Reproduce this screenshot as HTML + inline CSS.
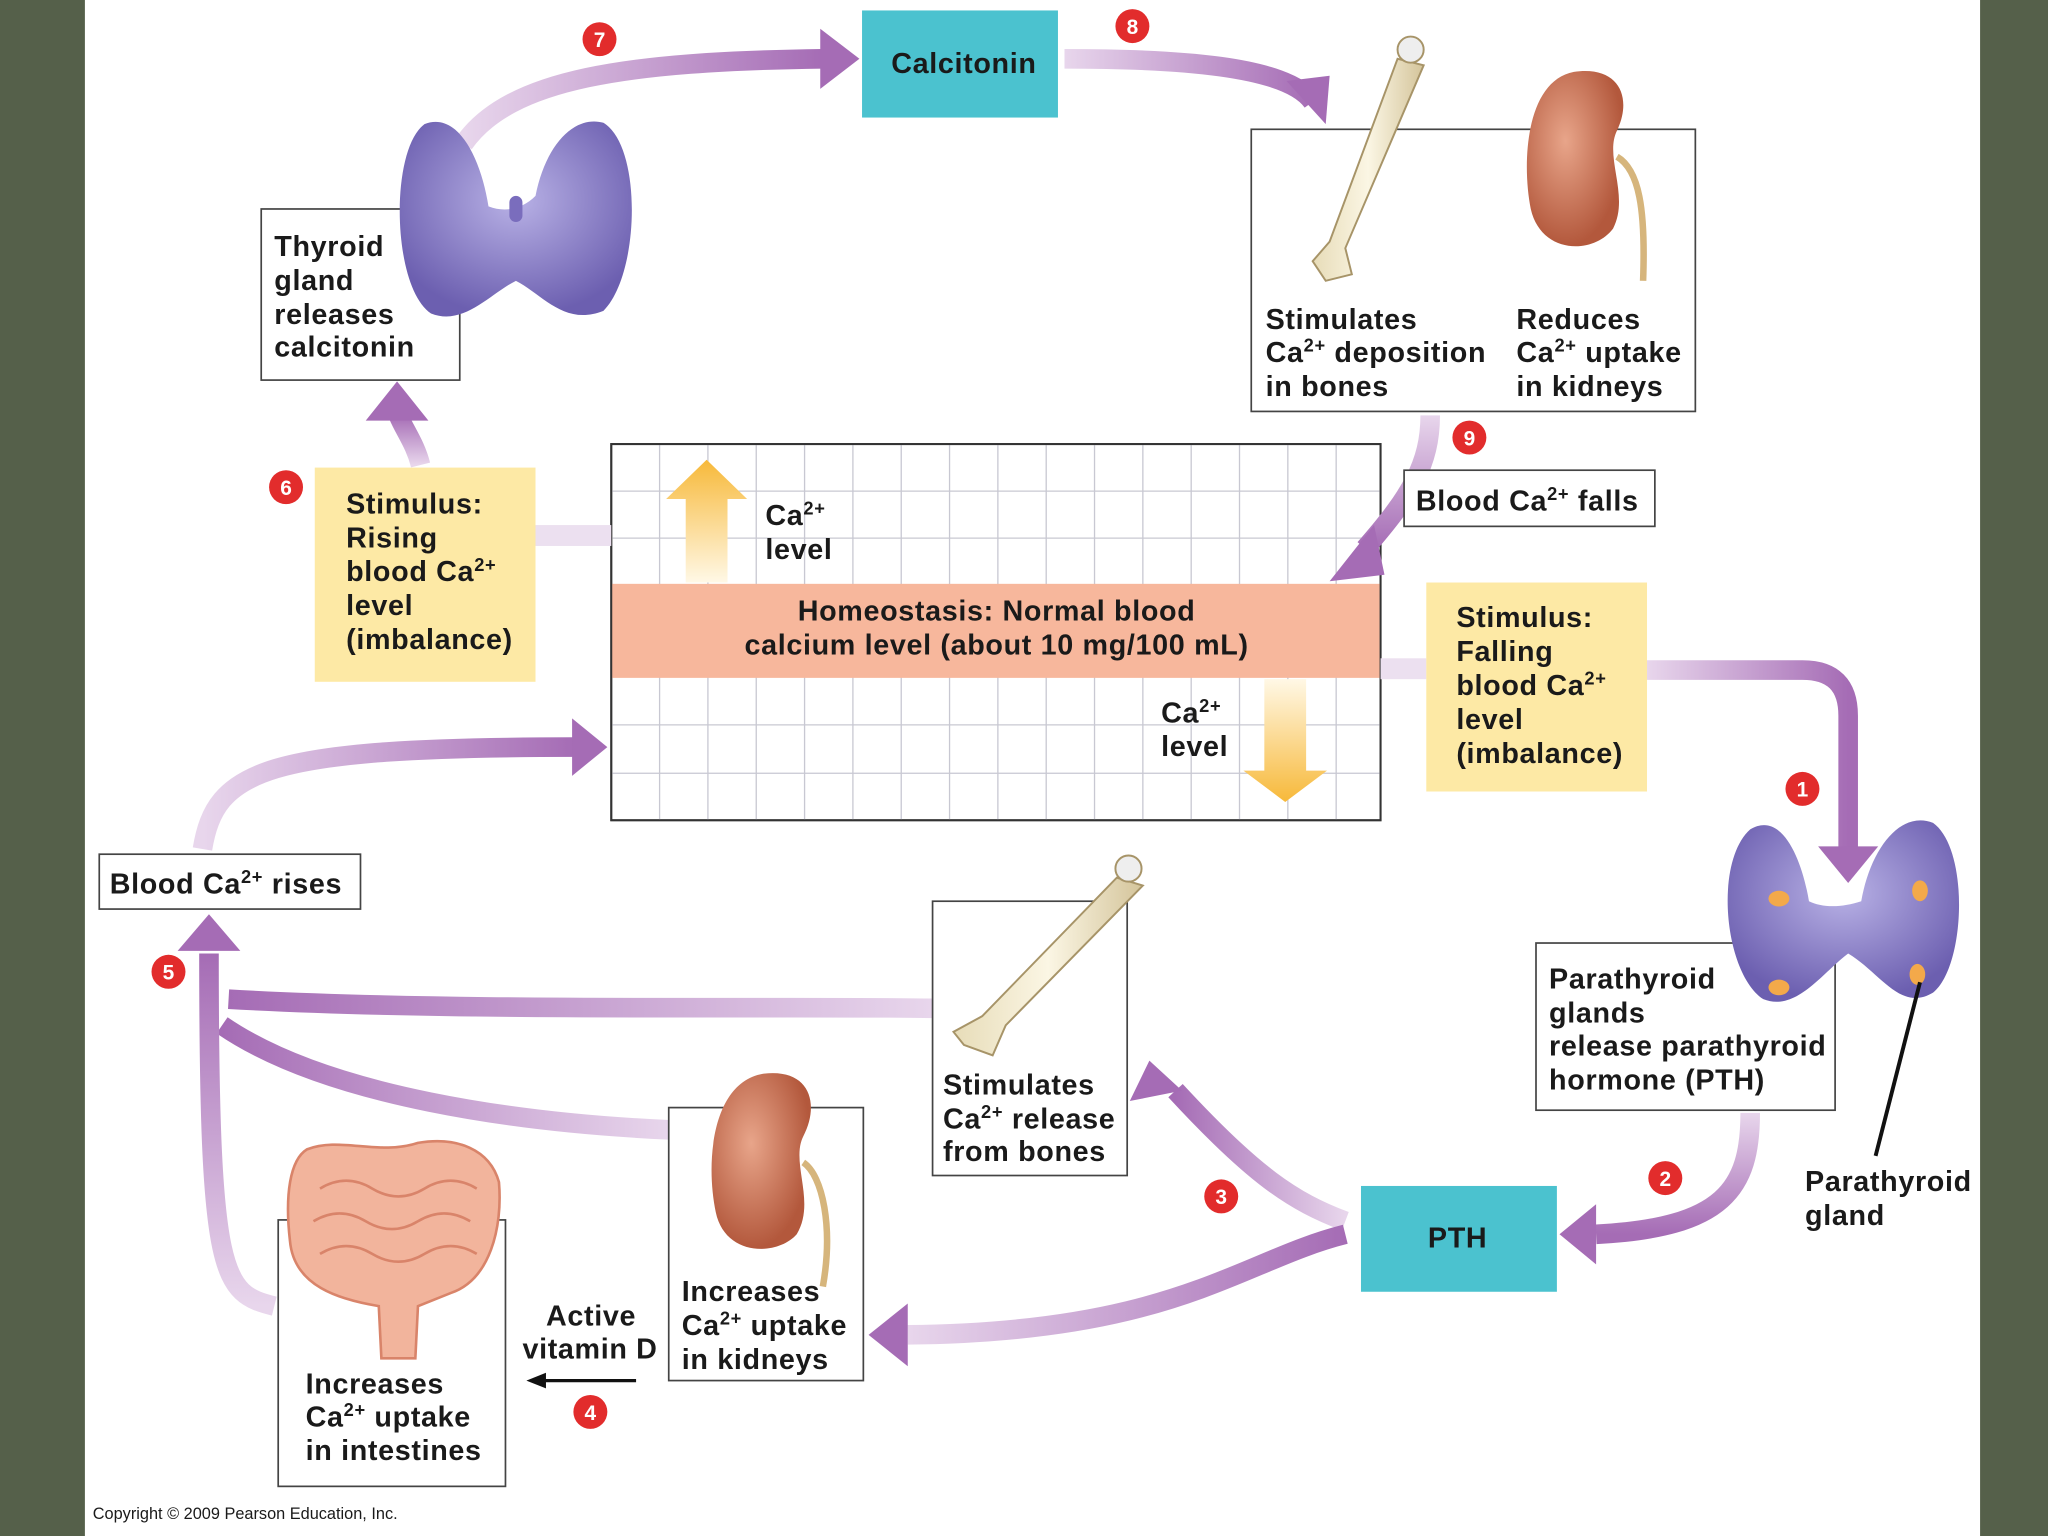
<!DOCTYPE html>
<html><head><meta charset="utf-8"><style>
html,body{margin:0;padding:0;background:#fff}
svg{display:block}
text{font-family:"Liberation Sans",Arial,sans-serif;font-weight:bold;fill:#1a1a1a}
.t{letter-spacing:0.5px}
</style></head><body>
<svg width="2048" height="1536" viewBox="0 0 1568 1176" xmlns="http://www.w3.org/2000/svg">
<defs>
<linearGradient id="gR" x1="0" x2="1" y1="0" y2="0"><stop offset="0" stop-color="#e8d6ec"/><stop offset="1" stop-color="#a56cb5"/></linearGradient>
<linearGradient id="gL" x1="1" x2="0" y1="0" y2="0"><stop offset="0" stop-color="#e8d6ec"/><stop offset="1" stop-color="#a56cb5"/></linearGradient>
<linearGradient id="gU" x1="0" x2="0" y1="1" y2="0"><stop offset="0" stop-color="#e8d6ec"/><stop offset="1" stop-color="#a56cb5"/></linearGradient>
<linearGradient id="gD" x1="0" x2="0" y1="0" y2="1"><stop offset="0" stop-color="#e8d6ec"/><stop offset="1" stop-color="#a56cb5"/></linearGradient>
<linearGradient id="yU" x1="0" x2="0" y1="1" y2="0"><stop offset="0" stop-color="#fff8e6"/><stop offset="1" stop-color="#f7b93a"/></linearGradient>
<linearGradient id="yD" x1="0" x2="0" y1="0" y2="1"><stop offset="0" stop-color="#fff8e6"/><stop offset="1" stop-color="#f7b93a"/></linearGradient>
<radialGradient id="thy" cx="0.5" cy="0.4" r="0.6"><stop offset="0" stop-color="#b9b2e6"/><stop offset="1" stop-color="#6c5fb0"/></radialGradient>
<radialGradient id="kid" cx="0.4" cy="0.4" r="0.6"><stop offset="0" stop-color="#e8a58a"/><stop offset="1" stop-color="#b3583c"/></radialGradient>
<linearGradient id="bone" x1="0" x2="1"><stop offset="0" stop-color="#e7dcb8"/><stop offset="0.5" stop-color="#fbf6e4"/><stop offset="1" stop-color="#d4c49a"/></linearGradient>
</defs>
<rect width="1568" height="1176" fill="#fff"/>
<rect x="0" y="0" width="65" height="1176" fill="#55604a"/>
<rect x="1516" y="0" width="52" height="1176" fill="#55604a"/>

<!-- graph -->
<rect x="468" y="340" width="589" height="288" fill="#fff" stroke="#333" stroke-width="1.5"/>
<g stroke="#c8c8d2" stroke-width="1">
<path d="M505 340V628M542 340V628M579 340V628M616 340V628M653 340V628M690 340V628M727 340V628M764 340V628M801 340V628M838 340V628M875 340V628M912 340V628M949 340V628M986 340V628M1023 340V628"/>
<path d="M468 376H1057M468 412H1057M468 555H1057M468 592H1057"/>
</g>
<rect x="468" y="447" width="589" height="72" fill="#f7b79c"/>
<rect x="468" y="340" width="589" height="288" fill="none" stroke="#333" stroke-width="1.5"/>
<g class="t" font-size="22">
<text x="763" y="475" text-anchor="middle">Homeostasis: Normal blood</text>
<text x="763" y="501" text-anchor="middle">calcium level (about 10 mg/100 mL)</text>
</g>
<polygon points="525,446 525,382 510,382 541,352 572,382 557,382 557,446" fill="url(#yU)"/>
<polygon points="968,520 968,590 952,590 984,614 1016,590 1000,590 1000,520" fill="url(#yD)"/>
<g class="t" font-size="22">
<text x="586" y="402">Ca<tspan font-size="14" dy="-8">2+</tspan></text>
<text x="586" y="428">level</text>
<text x="889" y="553">Ca<tspan font-size="14" dy="-8">2+</tspan></text>
<text x="889" y="579">level</text>
</g>

<!-- connectors -->
<rect x="410" y="402" width="58" height="16" fill="#ece0f0"/>
<rect x="1057" y="504" width="35" height="16" fill="#ece0f0"/>
<g fill="none" stroke-width="15">
<path d="M355 110 C390 60 480 47 630 45" stroke="url(#gR)"/>
<path d="M815 45 C900 45 985 50 1005 78" stroke="url(#gR)"/>
<path d="M1095 318 C1095 355 1080 380 1045 420" stroke="url(#gD)"/>
<path d="M322 356 C318 340 310 330 305 318" stroke="url(#gU)"/>
<path d="M1261 513 H1380 Q1415 513 1415 548 V650" stroke="url(#gR)"/>
<path d="M1340 852 C1340 910 1320 940 1222 945" stroke="url(#gD)"/>
<path d="M1030 935 C990 920 960 900 900 835" stroke="url(#gL)"/>
<path d="M1030 945 C950 965 900 1020 695 1022" stroke="url(#gR)"/>
<path d="M714 772 C600 770 350 775 175 765" stroke="url(#gL)"/>
<path d="M512 865 C400 860 250 840 170 785" stroke="url(#gL)"/>
<path d="M210 1000 C170 990 160 980 160 730" stroke="url(#gU)"/>
<path d="M155 650 C165 590 200 572 440 572" stroke="url(#gR)"/>
</g>
<g fill="#a56cb5">
<polygon points="628,22 658,45 628,68"/>
<polygon points="985,62 1018,58 1015,95"/>
<polygon points="1052,402 1018,445 1060,440"/>
<polygon points="280,322 304,292 328,322"/>
<polygon points="1392,648 1415,676 1438,648"/>
<polygon points="1222,922 1194,945 1222,968"/>
<polygon points="880,812 865,843 905,835"/>
<polygon points="695,998 665,1022 695,1046"/>
<polygon points="136,728 160,700 184,728"/>
<polygon points="438,550 465,572 438,594"/>
</g>
<path d="M487 1057 H415" stroke="#111" stroke-width="2.5"/>
<polygon points="403,1057 418,1051 418,1063" fill="#111"/>

<!-- boxes -->
<rect x="660" y="8" width="150" height="82" fill="#4bc2cf"/>
<text class="t" x="738" y="56" font-size="22" text-anchor="middle">Calcitonin</text>
<rect x="1042" y="908" width="150" height="81" fill="#4bc2cf"/>
<text class="t" x="1116" y="955" font-size="22" text-anchor="middle">PTH</text>
<rect x="241" y="358" width="169" height="164" fill="#fde9a5"/>
<g class="t" font-size="22"><text x="265" y="393">Stimulus:</text><text x="265" y="419">Rising</text><text x="265" y="445">blood Ca<tspan font-size="14" dy="-8">2+</tspan></text><text x="265" y="471">level</text><text x="265" y="497">(imbalance)</text></g>
<rect x="1092" y="446" width="169" height="160" fill="#fde9a5"/>
<g class="t" font-size="22"><text x="1115" y="480">Stimulus:</text><text x="1115" y="506">Falling</text><text x="1115" y="532">blood Ca<tspan font-size="14" dy="-8">2+</tspan></text><text x="1115" y="558">level</text><text x="1115" y="584">(imbalance)</text></g>

<g fill="#fff" stroke="#444" stroke-width="1.3">
<rect x="200" y="160" width="152" height="131"/>
<rect x="958" y="99" width="340" height="216"/>
<rect x="1075" y="360" width="192" height="43"/>
<rect x="76" y="654" width="200" height="42"/>
<rect x="1176" y="722" width="229" height="128"/>
<rect x="714" y="690" width="149" height="210"/>
<rect x="512" y="848" width="149" height="209"/>
<rect x="213" y="934" width="174" height="204"/>
</g>
<g class="t" font-size="22">
<text x="210" y="196">Thyroid</text><text x="210" y="222">gland</text><text x="210" y="248">releases</text><text x="210" y="273">calcitonin</text>
<text x="969" y="252">Stimulates</text><text x="969" y="277">Ca<tspan font-size="14" dy="-8">2+</tspan><tspan dy="8"> deposition</tspan></text><text x="969" y="303">in bones</text>
<text x="1161" y="252">Reduces</text><text x="1161" y="277">Ca<tspan font-size="14" dy="-8">2+</tspan><tspan dy="8"> uptake</tspan></text><text x="1161" y="303">in kidneys</text>
<text x="1084" y="391">Blood Ca<tspan font-size="14" dy="-8">2+</tspan><tspan dy="8"> falls</tspan></text>
<text x="84" y="684">Blood Ca<tspan font-size="14" dy="-8">2+</tspan><tspan dy="8"> rises</tspan></text>
<text x="1186" y="757">Parathyroid</text><text x="1186" y="783">glands</text><text x="1186" y="808">release parathyroid</text><text x="1186" y="834">hormone (PTH)</text>
<text x="722" y="838">Stimulates</text><text x="722" y="864">Ca<tspan font-size="14" dy="-8">2+</tspan><tspan dy="8"> release</tspan></text><text x="722" y="889">from bones</text>
<text x="522" y="996">Increases</text><text x="522" y="1022">Ca<tspan font-size="14" dy="-8">2+</tspan><tspan dy="8"> uptake</tspan></text><text x="522" y="1048">in kidneys</text>
<text x="234" y="1067">Increases</text><text x="234" y="1092">Ca<tspan font-size="14" dy="-8">2+</tspan><tspan dy="8"> uptake</tspan></text><text x="234" y="1118">in intestines</text>
<text x="418" y="1015">Active</text><text x="400" y="1040">vitamin D</text>
<text x="1382" y="912">Parathyroid</text><text x="1382" y="938">gland</text>
</g>
<text x="71" y="1163" font-size="12.5" style="font-weight:normal">Copyright © 2009 Pearson Education, Inc.</text>

<!-- thyroid top -->
<path d="M325 95 C350 85 368 120 374 158 C387 163 400 160 410 150 C418 110 440 88 462 94 C492 112 490 210 462 238 C432 250 415 225 395 215 C375 225 355 250 330 240 C300 220 298 115 325 95Z" fill="url(#thy)"/>
<rect x="390" y="150" width="10" height="20" rx="5" fill="#7a6dbd"/>
<!-- parathyroid -->
<path d="M1340 635 C1365 620 1380 660 1385 690 C1395 695 1410 695 1425 690 C1432 650 1455 620 1480 630 C1508 650 1505 740 1480 760 C1455 775 1440 745 1415 730 C1395 745 1375 775 1350 765 C1320 745 1312 660 1340 635Z" fill="url(#thy)"/>
<g fill="#f3a94a"><ellipse cx="1362" cy="688" rx="8" ry="6"/><ellipse cx="1470" cy="682" rx="6" ry="8"/><ellipse cx="1362" cy="756" rx="8" ry="6"/><ellipse cx="1468" cy="746" rx="6" ry="8"/></g>
<path d="M1470 752 L1436 885" stroke="#111" stroke-width="3"/>

<!-- bones -->
<g fill="url(#bone)" stroke="#a79468" stroke-width="1.5">
<path d="M1070 45 L1090 50 L1030 190 L1035 210 L1015 215 L1005 200 L1018 185Z"/>
<circle cx="1080" cy="38" r="10" fill="#eee"/>
<path d="M855 672 L875 678 L770 785 L760 808 L738 800 L730 790 L752 778Z"/>
<circle cx="864" cy="665" r="10" fill="#eee"/>
</g>
<!-- kidneys -->
<path d="M1205 55 C1240 50 1250 75 1238 100 C1228 120 1248 150 1235 175 C1220 195 1180 195 1172 160 C1165 125 1168 62 1205 55Z" fill="url(#kid)"/>
<path d="M1238 120 C1255 130 1260 160 1258 215" stroke="#d6b57c" stroke-width="5" fill="none"/>
<path d="M585 822 C620 818 628 845 615 870 C605 890 625 920 610 945 C595 962 555 962 548 928 C540 890 545 828 585 822Z" fill="url(#kid)"/>
<path d="M615 890 C630 900 638 940 630 985" stroke="#d6b57c" stroke-width="5" fill="none"/>
<!-- intestine -->
<path d="M235 880 C260 870 290 885 320 875 C350 870 375 880 382 905 C385 940 375 980 345 990 L320 1000 L318 1040 L292 1040 L290 1000 C260 995 225 985 222 950 C218 915 222 888 235 880Z" fill="#f2b49c" stroke="#d9846a" stroke-width="2"/>
<path d="M245 910 q20 -12 40 0 t40 0 t40 0 M240 935 q20 -12 40 0 t40 0 t40 0 M245 960 q20 -12 40 0 t40 0 t40 0" stroke="#d9846a" stroke-width="2" fill="none"/>

<!-- numbers -->
<g fill="#e22c2c">
<circle cx="459" cy="30" r="13"/><circle cx="867" cy="20" r="13"/><circle cx="1125" cy="335" r="13"/>
<circle cx="219" cy="373" r="13"/><circle cx="1380" cy="604" r="13"/><circle cx="1275" cy="902" r="13"/>
<circle cx="935" cy="916" r="13"/><circle cx="452" cy="1081" r="13"/><circle cx="129" cy="744" r="13"/>
</g>
<g font-size="16" text-anchor="middle">
<text x="459" y="36" style="fill:#fff">7</text><text x="867" y="26" style="fill:#fff">8</text><text x="1125" y="341" style="fill:#fff">9</text>
<text x="219" y="379" style="fill:#fff">6</text><text x="1380" y="610" style="fill:#fff">1</text><text x="1275" y="908" style="fill:#fff">2</text>
<text x="935" y="922" style="fill:#fff">3</text><text x="452" y="1087" style="fill:#fff">4</text><text x="129" y="750" style="fill:#fff">5</text>
</g>
</svg>
</body></html>
